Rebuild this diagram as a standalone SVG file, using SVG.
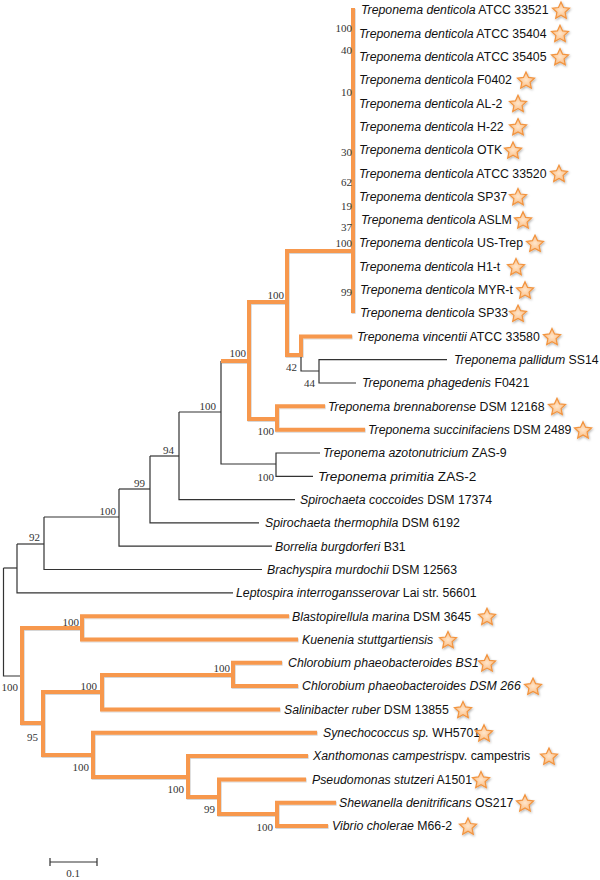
<svg xmlns="http://www.w3.org/2000/svg" width="600" height="880" viewBox="0 0 600 880">
<style>
.b{fill:none;stroke:#333;stroke-width:1.2}
.o{fill:none;stroke:#F7984D;stroke-width:4;stroke-linecap:square;stroke-linejoin:miter}
.t{font-family:"Liberation Sans",Arial,sans-serif;font-size:12.3px;fill:#111}
.i{font-style:italic}
.bs{font-family:"Liberation Serif","Times New Roman",serif;font-size:11px;fill:#333;text-anchor:end}
.st{fill:url(#sg);stroke:#F2943F;stroke-width:1.2;filter:url(#ss)}
</style>
<defs>
<radialGradient id="sg" cx="50%" cy="50%" r="55%">
<stop offset="0" stop-color="#FFE6CC"/>
<stop offset="1" stop-color="#F9B677"/>
</radialGradient>
<filter id="ss" x="-50%" y="-50%" width="200%" height="200%">
<feDropShadow dx="0.8" dy="1.2" stdDeviation="0.8" flood-color="#000" flood-opacity="0.3"/>
</filter>
<filter id="os" x="-5%" y="-5%" width="110%" height="110%">
<feDropShadow dx="0.6" dy="0.8" stdDeviation="0.5" flood-color="#000" flood-opacity="0.2"/>
</filter>
<path id="star" d="M0,-9 L2.53,-3.48 L8.56,-2.78 L4.09,1.33 L5.29,7.28 L0,4.3 L-5.29,7.28 L-4.09,1.33 L-8.56,-2.78 L-2.53,-3.48 Z"/>
</defs>
<rect width="600" height="880" fill="#fff"/>
<g id="connectors">
<g class="b">
<path d="M301,355 V371 H319"/>
<path d="M447,359.7 H319 V383 H356"/>
<path d="M221,361 V464 H276"/>
<path d="M320,453 H276 V476.3 H313"/>
<path d="M179,412 H221"/>
<path d="M179,412 V499.6 H295"/>
<path d="M150,456 H179"/>
<path d="M150,456 V522.9 H259"/>
<path d="M119,489 H150"/>
<path d="M119,489 V546.2 H272"/>
<path d="M44,517 H119"/>
<path d="M44,517 V569.5 H262"/>
<path d="M17,544 H44"/>
<path d="M17,544 V592.9 H233"/>
<path d="M3.5,568 H17"/>
<path d="M3.5,568 V676 H22"/>
</g>
<g class="o" filter="url(#os)">
<path d="M353,10 V311"/>
<path d="M351,251 H287 V355 H301"/>
<path d="M350,336.4 H301 V355"/>
<path d="M287,302 H249 V419 H277"/>
<path d="M323,406.3 H277 V429.7 H363"/>
<path d="M223,361 H249"/>
<path d="M80,628 H22 V723 H43"/>
<path d="M287,616.2 H82 V639.5 H296"/>
<path d="M102,692 H43 V755 H93"/>
<path d="M233,675 H102 V709.4 H278"/>
<path d="M280,662.8 H233 V686.1 H296"/>
<path d="M315,732.7 H93 V777 H188"/>
<path d="M306,756 H188 V797 H219"/>
<path d="M304,779.4 H219 V814 H277"/>
<path d="M334,802.7 H277 V826 H326"/>
</g>
</g>
<g id="bootstrap" class="bs">
<g id="n-td"><text x="352" y="32">100</text><text x="352" y="54">40</text><text x="352" y="96">10</text><text x="352" y="156">30</text><text x="352" y="186">62</text><text x="352" y="210">19</text><text x="352" y="231">37</text><text x="352" y="247">100</text><text x="352" y="296">99</text></g>
<g id="nA"><text x="284" y="299">100</text></g>
<g id="nB"><text x="297" y="371">42</text></g>
<g id="nC"><text x="315" y="387">44</text></g>
<g id="nD"><text x="246" y="357">100</text></g>
<g id="nE"><text x="274" y="435">100</text></g>
<g id="nF"><text x="216" y="410">100</text></g>
<g id="nG"><text x="274" y="481">100</text></g>
<g id="nH"><text x="174" y="454">94</text></g>
<g id="nI"><text x="145" y="487">99</text></g>
<g id="nJ"><text x="116" y="515">100</text></g>
<g id="nK"><text x="40" y="541">92</text></g>
<g id="nRoot"><text x="18" y="691">100</text></g>
<g id="nM"><text x="38" y="741">95</text></g>
<g id="nO"><text x="79" y="626">100</text></g>
<g id="nP"><text x="97" y="690">100</text></g>
<g id="nQ"><text x="230" y="672">100</text></g>
<g id="nR"><text x="89" y="771">100</text></g>
<g id="nS"><text x="184" y="793">100</text></g>
<g id="nT"><text x="215" y="813">99</text></g>
<g id="nU"><text x="273" y="831">100</text></g>
</g>
<g id="leaves" class="t">
<g id="L1"><text x="361" y="14.3"><tspan class="i">Treponema denticola</tspan> ATCC 33521</text><use href="#star" x="561" y="11" class="st"/></g>
<g id="L2"><text x="359" y="37.6"><tspan class="i">Treponema denticola</tspan> ATCC 35404</text><use href="#star" x="560" y="34.3" class="st"/></g>
<g id="L3"><text x="359" y="60.9"><tspan class="i">Treponema denticola</tspan> ATCC 35405</text><use href="#star" x="560" y="57.6" class="st"/></g>
<g id="L4"><text x="359" y="84.2"><tspan class="i">Treponema denticola</tspan> F0402</text><use href="#star" x="526" y="80.9" class="st"/></g>
<g id="L5"><text x="359" y="107.6"><tspan class="i">Treponema denticola</tspan> AL-2</text><use href="#star" x="518" y="104.3" class="st"/></g>
<g id="L6"><text x="359" y="130.9"><tspan class="i">Treponema denticola</tspan> H-22</text><use href="#star" x="518" y="127.6" class="st"/></g>
<g id="L7"><text x="359" y="154.2"><tspan class="i">Treponema denticola</tspan> OTK</text><use href="#star" x="513" y="150.9" class="st"/></g>
<g id="L8"><text x="359" y="177.5"><tspan class="i">Treponema denticola</tspan> ATCC 33520</text><use href="#star" x="559" y="174.2" class="st"/></g>
<g id="L9"><text x="359" y="200.8"><tspan class="i">Treponema denticola</tspan> SP37</text><use href="#star" x="518" y="197.5" class="st"/></g>
<g id="L10"><text x="361" y="224.1"><tspan class="i">Treponema denticola</tspan> ASLM</text><use href="#star" x="523" y="220.8" class="st"/></g>
<g id="L11"><text x="359" y="247.4"><tspan class="i">Treponema denticola</tspan> US-Trep</text><use href="#star" x="535" y="244.1" class="st"/></g>
<g id="L12"><text x="359" y="270.8"><tspan class="i">Treponema denticola</tspan> H1-t</text><use href="#star" x="516" y="267.5" class="st"/></g>
<g id="L13"><text x="360" y="294.1"><tspan class="i">Treponema denticola</tspan> MYR-t</text><use href="#star" x="525" y="290.8" class="st"/></g>
<g id="L14"><text x="360" y="317.4"><tspan class="i">Treponema denticola</tspan> SP33</text><use href="#star" x="518" y="314.1" class="st"/></g>
<g id="L15"><text x="357" y="340.7"><tspan class="i">Treponema vincentii</tspan> ATCC 33580</text><use href="#star" x="552" y="337.4" class="st"/></g>
<g id="L16"><text x="454" y="364"><tspan class="i">Treponema pallidum</tspan> SS14</text></g>
<g id="L17"><text x="362" y="387.3"><tspan class="i">Treponema phagedenis</tspan> F0421</text></g>
<g id="L18"><text x="328" y="410.6"><tspan class="i">Treponema brennaborense</tspan> DSM 12168</text><use href="#star" x="557" y="407.3" class="st"/></g>
<g id="L19"><text x="368" y="434"><tspan class="i">Treponema succinifaciens</tspan> DSM 2489</text><use href="#star" x="583" y="430.7" class="st"/></g>
<g id="L20"><text x="323" y="457.3"><tspan class="i">Treponema azotonutricium</tspan> ZAS-9</text></g>
<g id="L21"><text x="318" y="481.2" style="font-size:13.6px"><tspan class="i">Treponema primitia</tspan> ZAS-2</text></g>
<g id="L22"><text x="300" y="503.9"><tspan class="i">Spirochaeta coccoides</tspan> DSM 17374</text></g>
<g id="L23"><text x="265" y="527.2"><tspan class="i">Spirochaeta thermophila</tspan> DSM 6192</text></g>
<g id="L24"><text x="275" y="550.5"><tspan class="i">Borrelia burgdorferi</tspan> B31</text></g>
<g id="L25"><text x="267" y="573.8"><tspan class="i">Brachyspira murdochii</tspan> DSM 12563</text></g>
<g id="L26"><text x="236" y="597.2"><tspan class="i">Leptospira interrogansserovar</tspan> Lai str. 56601</text></g>
<g id="L27"><text x="292" y="620.5"><tspan class="i">Blastopirellula marina</tspan> DSM 3645</text><use href="#star" x="487" y="617.2" class="st"/></g>
<g id="L28"><text x="302" y="643.8"><tspan class="i">Kuenenia stuttgartiensis</tspan></text><use href="#star" x="448" y="640.5" class="st"/></g>
<g id="L29"><text x="288" y="667.1" class="i">Chlorobium phaeobacteroides BS1</text><use href="#star" x="487" y="663.8" class="st"/></g>
<g id="L30"><text x="302" y="690.4" class="i">Chlorobium phaeobacteroides DSM 266</text><use href="#star" x="533" y="687.1" class="st"/></g>
<g id="L31"><text x="284" y="713.7"><tspan class="i">Salinibacter ruber</tspan> DSM 13855</text><use href="#star" x="463" y="710.4" class="st"/></g>
<g id="L32"><text x="323" y="737"><tspan class="i">Synechococcus sp.</tspan> WH5701</text><use href="#star" x="484" y="733.7" class="st"/></g>
<g id="L33"><text x="313" y="760.3"><tspan class="i">Xanthomonas campestris</tspan>pv. campestris</text><use href="#star" x="549" y="757" class="st"/></g>
<g id="L34"><text x="312" y="783.7"><tspan class="i">Pseudomonas stutzeri</tspan> A1501</text><use href="#star" x="481" y="780.4" class="st"/></g>
<g id="L35"><text x="339" y="807"><tspan class="i">Shewanella denitrificans</tspan> OS217</text><use href="#star" x="525" y="803.7" class="st"/></g>
<g id="L36"><text x="332" y="830.3"><tspan class="i">Vibrio cholerae</tspan> M66-2</text><use href="#star" x="468" y="827" class="st"/></g>
</g>
<g id="scalebar">
<path class="b" d="M50,862 H97 M50,858 V866 M97,858 V866"/>
<text x="73" y="877" class="bs" style="text-anchor:middle">0.1</text>
</g>
</svg>
